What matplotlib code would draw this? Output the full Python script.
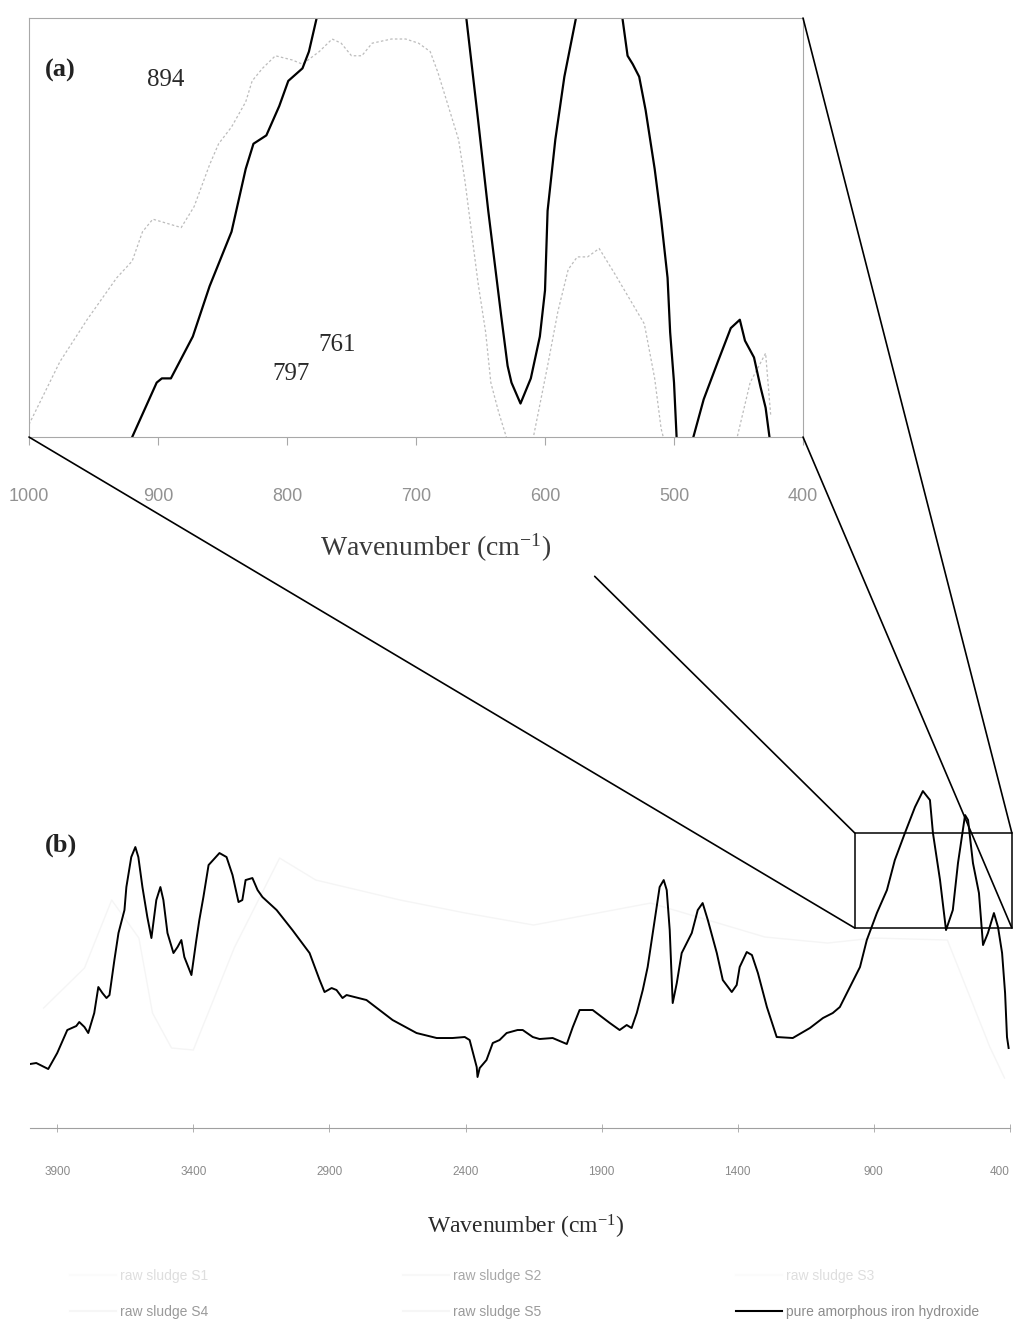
import matplotlib
matplotlib.use("Agg")
import matplotlib.pyplot as plt
from matplotlib.lines import Line2D
from matplotlib.patches import Rectangle, ConnectionPatch
from matplotlib import transforms

plt.rcParams['mathtext.fontset'] = 'custom'
plt.rcParams['mathtext.rm'] = 'Liberation Serif'
plt.rcParams['mathtext.it'] = 'Liberation Serif:italic'

SERIF = 'Liberation Serif'
SANS = 'Liberation Sans'

# ---- (b) full FTIR spectra, 4000-400 cm-1 ----
pure_b_wn = [4000, 3977, 3933, 3900, 3863, 3830, 3819, 3800, 3786, 3764, 3749, 3734, 3719, 3708,
             3690, 3675, 3653, 3646, 3628, 3613, 3602, 3587, 3569, 3554, 3536, 3521, 3510, 3495,
             3473, 3458, 3444, 3433, 3407, 3389, 3378, 3363, 3344, 3304, 3278, 3256, 3234, 3220,
             3208, 3183, 3164, 3146, 3094, 3036, 2973, 2936, 2918, 2892, 2874, 2852, 2837, 2764,
             2668, 2580, 2506, 2448, 2403, 2385, 2359, 2356, 2348, 2323, 2300, 2275, 2249, 2209,
             2190, 2153, 2128, 2080, 2028, 2006, 1981, 1933, 1870, 1834, 1808, 1790, 1771, 1749,
             1731, 1705, 1687, 1672, 1661, 1650, 1639, 1624, 1606, 1569, 1547, 1529, 1510, 1477,
             1455, 1422, 1404, 1393, 1367, 1348, 1326, 1293, 1257, 1198, 1135, 1087, 1051, 1025,
             988, 951, 926, 889, 852, 823, 786, 749, 720, 694, 683, 657, 635, 610, 591, 565, 554,
             536, 514, 499, 481, 459, 444, 429, 418, 411, 405]
pure_b_abs = [0.64, 0.65, 0.59, 0.75, 0.98, 1.02, 1.06, 1.01, 0.95, 1.15, 1.41, 1.35, 1.30, 1.33,
              1.68, 1.95, 2.18, 2.41, 2.71, 2.81, 2.71, 2.41, 2.11, 1.90, 2.28, 2.41, 2.28, 1.95,
              1.75, 1.81, 1.88, 1.71, 1.53, 1.88, 2.08, 2.31, 2.63, 2.75, 2.71, 2.53, 2.26, 2.28,
              2.48, 2.50, 2.38, 2.31, 2.18, 1.98, 1.75, 1.48, 1.36, 1.40, 1.38, 1.30, 1.33, 1.28,
              1.08, 0.95, 0.90, 0.90, 0.91, 0.88, 0.61, 0.51, 0.60, 0.68, 0.85, 0.88, 0.95, 0.98,
              0.98, 0.91, 0.89, 0.90, 0.84, 1.01, 1.18, 1.18, 1.05, 0.98, 1.03, 1.00, 1.15, 1.38,
              1.61, 2.08, 2.41, 2.48, 2.38, 1.98, 1.25, 1.45, 1.75, 1.95, 2.18, 2.25, 2.08, 1.75,
              1.48, 1.36, 1.43, 1.61, 1.76, 1.73, 1.55, 1.21, 0.91, 0.90, 1.00, 1.10, 1.15, 1.21,
              1.41, 1.61, 1.88, 2.15, 2.38, 2.68, 2.95, 3.21, 3.37, 3.28, 2.95, 2.48, 1.98, 2.18,
              2.65, 3.13, 3.08, 2.65, 2.35, 1.83, 1.95, 2.15, 2.01, 1.75, 1.35, 0.91, 0.80]

sludge_b_wn = [3950, 3800, 3700, 3600, 3550, 3480, 3400, 3250, 3083, 2950, 2640, 2400, 2150,
               1720, 1300, 1070, 900, 630, 474, 420]
sludge_b_abs = [1.20, 1.60, 2.28, 1.90, 1.15, 0.80, 0.78, 1.80, 2.70, 2.48, 2.28, 2.15, 2.03,
                2.25, 1.91, 1.85, 1.90, 1.88, 0.81, 0.50]

# ---- (a) expanded 1000-400 cm-1 region ----
pure_a_wn = [925, 920, 901, 897, 890, 873, 860, 843, 832, 826, 816, 806, 799, 788, 783, 777, 745,
             720, 695, 661, 652, 644, 634, 629, 626, 619, 611, 604, 600, 598, 592, 585, 576, 558,
             540, 536, 532, 527, 522, 515, 510, 505, 503, 500, 498, 492, 485, 477, 466, 456, 449,
             445, 438, 433, 429, 426, 410]
pure_a_abs = [-0.05, 0.00, 0.13, 0.14, 0.14, 0.24, 0.36, 0.49, 0.64, 0.70, 0.72, 0.79, 0.85, 0.88,
              0.92, 1.00, 1.30, 1.45, 1.30, 1.00, 0.76, 0.54, 0.29, 0.17, 0.13, 0.08, 0.14, 0.24,
              0.35, 0.54, 0.71, 0.86, 1.00, 1.15, 1.00, 0.91, 0.89, 0.86, 0.78, 0.64, 0.52, 0.38,
              0.25, 0.13, 0.00, -0.12, 0.00, 0.09, 0.18, 0.26, 0.28, 0.23, 0.19, 0.12, 0.07, 0.00,
              -0.40]

sludge_a_wn = [1000, 992, 976, 955, 932, 920, 912, 904, 893, 882, 876, 872, 860, 853, 843, 832,
               827, 819, 809, 796, 788, 775, 765, 758, 750, 742, 734, 719, 708, 698, 689, 683,
               675, 667, 662, 657, 652, 646, 642, 636, 629, 615, 609, 598, 590, 582, 575, 567,
               558, 546, 523, 515, 510, 500, 451, 441, 429, 425]
sludge_a_abs = [0.03, 0.08, 0.18, 0.28, 0.38, 0.42, 0.49, 0.52, 0.51, 0.50, 0.53, 0.55, 0.65,
                0.70, 0.74, 0.80, 0.85, 0.88, 0.91, 0.90, 0.89, 0.92, 0.95, 0.94, 0.91, 0.91,
                0.94, 0.95, 0.95, 0.94, 0.92, 0.87, 0.79, 0.71, 0.61, 0.49, 0.37, 0.25, 0.13,
                0.06, -0.01, -0.08, 0.00, 0.17, 0.30, 0.40, 0.43, 0.43, 0.45, 0.39, 0.27, 0.14,
                0.02, -0.10, 0.00, 0.13, 0.20, 0.05]

peak_labels = [894, 797, 761]
peak_label_y = [0.852, 0.150, 0.220]

ticks_a = [1000, 900, 800, 700, 600, 500, 400]
ticks_b = [3900, 3400, 2900, 2400, 1900, 1400, 900, 400]

# zoom window drawn on (b)
zoom_x = (970, 393)
zoom_y = (2.0, 2.95)

series_names = ['raw sludge S1', 'raw sludge S4', 'raw sludge S2', 'raw sludge S5',
                'raw sludge S3', 'pure amorphous iron hydroxide']
series_colors = ['#fbfbfb', '#f6f6f6', '#f8f8f8', '#f6f6f6', '#fbfbfb', 'black']
name_colors = ['#dedede', '#9a9a9a', '#a8a8a8', '#9a9a9a', '#dedede', '#8c8c8c']

fig = plt.figure(figsize=(10.17, 13.28), dpi=100)
ax_a = fig.add_axes([0.0285, 0.6709, 0.7611, 0.3155])
ax_b = fig.add_axes([0.0295, 0.1506, 0.9636, 0.2620])

# panel (a)
ax_a.plot(sludge_a_wn, sludge_a_abs, color='#bcbcbc', lw=0.9, ls=(0, (2, 1.8)))
ax_a.plot(pure_a_wn, pure_a_abs, color='black', lw=1.6)
ax_a.set_xlim(1000, 400)
ax_a.set_ylim(0, 1)
ax_a.set_xticks(ticks_a)
ax_a.set_yticks([])
for s in ax_a.spines.values():
    s.set_color('#a8a8a8')
    s.set_linewidth(0.8)
ax_a.tick_params(axis='x', direction='out', length=6, width=0.8, color='#a8a8a8',
                 pad=31, labelsize=13, labelcolor='#929292')
for t in ax_a.get_xticklabels():
    t.set_family(SANS)
ax_a.set_xlabel(r'Wavenumber (cm$^{\mathrm{-1}}$)', family=SERIF, fontsize=20,
                color='#3a3a3a', va='center')
ax_a.xaxis.set_label_coords(0.525, -0.265)
ax_a.text(0.021, 0.876, '(a)', transform=ax_a.transAxes, family=SERIF, fontsize=19,
          fontweight='bold', va='center', ha='left', color='#222222')
blend = transforms.blended_transform_factory(ax_a.transData, ax_a.transAxes)
for wn, yy in zip(peak_labels, peak_label_y):
    ax_a.text(wn, yy, str(wn), transform=blend, family=SERIF, fontsize=18,
              ha='center', va='center', color='#2a2a2a')

# panel (b)
ax_b.plot(sludge_b_wn, sludge_b_abs, color='#f5f5f5', lw=1.0)
ax_b.plot(pure_b_wn, pure_b_abs, color='black', lw=1.4)
ax_b.set_xlim(4000, 400)
ax_b.set_ylim(0, 3.48)
ax_b.set_xticks(ticks_b)
ax_b.set_yticks([])
for side in ['left', 'right', 'top']:
    ax_b.spines[side].set_visible(False)
ax_b.spines['bottom'].set_color('#a0a0a0')
ax_b.spines['bottom'].set_linewidth(0.8)
ax_b.tick_params(axis='x', direction='inout', length=6, width=0.7, color='#b0b0b0',
                 pad=24, labelsize=8.5, labelcolor='#8a8a8a')
for t in ax_b.get_xticklabels():
    t.set_family(SANS)
ax_b.get_xticklabels()[-1].set_horizontalalignment('right')
ax_b.set_xlabel(r'Wavenumber (cm$^{\mathrm{-1}}$)', family=SERIF, fontsize=17,
                color='#2a2a2a', va='center')
ax_b.xaxis.set_label_coords(0.506, -0.284)
ax_b.text(0.015, 0.813, '(b)', transform=ax_b.transAxes, family=SERIF, fontsize=19,
          fontweight='bold', va='center', ha='left', color='#222222')

ax_b.add_patch(Rectangle((zoom_x[0], zoom_y[0]), zoom_x[1] - zoom_x[0], zoom_y[1] - zoom_y[0],
                         fill=False, ec='black', lw=1.1, clip_on=False))

# lines joining the zoom window to panel (a)
for a_corner, b_corner in [((0, 0), (zoom_x[0], zoom_y[0])),
                           ((1, 1), (zoom_x[1], zoom_y[1])),
                           ((1, 0), (zoom_x[1], zoom_y[0]))]:
    con = ConnectionPatch(xyA=a_corner, coordsA=ax_a.transAxes, xyB=b_corner,
                          coordsB=ax_b.transData, color='black', lw=1.2)
    fig.add_artist(con)

# upper-left joiner only shows below the (a) caption
p0 = ax_a.transAxes.transform((0, 1))
p1 = ax_b.transData.transform((zoom_x[0], zoom_y[1]))
start = fig.transFigure.inverted().transform(p0 + 0.685 * (p1 - p0))
con = ConnectionPatch(xyA=start, coordsA=fig.transFigure, xyB=(zoom_x[0], zoom_y[1]),
                      coordsB=ax_b.transData, color='black', lw=1.2)
fig.add_artist(con)

handles = [Line2D([], [], color=c, lw=1.5) for c in series_colors]
leg = fig.legend(handles, series_names, ncol=3, loc='upper left',
                 bbox_to_anchor=(0.069, 0.0444), frameon=False,
                 prop={'family': SANS, 'size': 10}, handlelength=3.3, handletextpad=0.3,
                 columnspacing=14.0, labelspacing=1.6, borderpad=0, borderaxespad=0)
for txt, col in zip(leg.get_texts(), name_colors):
    txt.set_color(col)

fig.savefig('out.png', dpi=100, facecolor='white')
